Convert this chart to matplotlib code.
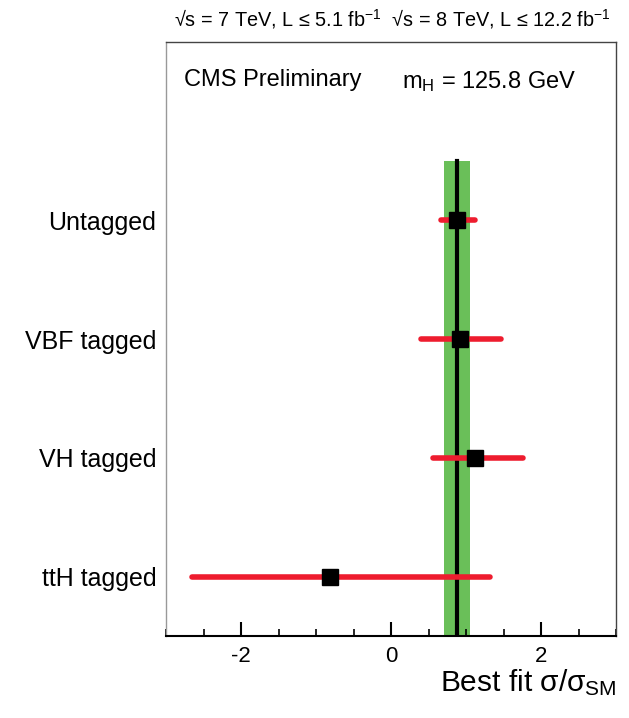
import matplotlib
matplotlib.use("Agg")
import matplotlib.pyplot as plt
from matplotlib.ticker import MultipleLocator

plt.rcParams['font.family'] = ['Liberation Sans', 'DejaVu Sans']
plt.rcParams['mathtext.fontset'] = 'custom'
plt.rcParams['mathtext.rm'] = 'Liberation Sans'
plt.rcParams['mathtext.it'] = 'Liberation Sans'
plt.rcParams['mathtext.sf'] = 'Liberation Sans'
plt.rcParams['axes.unicode_minus'] = False

# per-category best fit signal strength with 68% intervals
categories = ["ttH tagged", "VH tagged", "VBF tagged", "Untagged"]
mu_best = [-0.81, 1.12, 0.91, 0.87]
mu_low = [-2.66, 0.56, 0.40, 0.66]
mu_high = [1.31, 1.76, 1.46, 1.12]

# combined result
mu_comb = 0.88
mu_comb_low = 0.70
mu_comb_high = 1.05

ypos = [0.5, 1.5, 2.5, 3.5]

fig = plt.figure(figsize=(6.29, 7.18), dpi=100)
ax = fig.add_axes([0.264, 0.114, 0.716, 0.8275])

ax.fill_betweenx([0, 4], mu_comb_low, mu_comb_high, color="#6abf59", lw=0, zorder=1)
ax.plot([mu_comb, mu_comb], [0, 4], color="black", lw=3, zorder=2)

for y, m, lo, hi in zip(ypos, mu_best, mu_low, mu_high):
    ax.plot([lo, hi], [y, y], color="#ee1c2e", lw=4, solid_capstyle="round", zorder=3)
    ax.plot(m, y, marker="s", ms=12, color="black", zorder=4)

ax.set_xlim(-3, 3)
ax.set_ylim(0, 5)
ax.set_yticks(ypos)
ax.set_yticklabels(categories, fontsize=18)
ax.tick_params(axis="y", length=0, pad=7)

ax.xaxis.set_major_locator(MultipleLocator(2))
ax.xaxis.set_minor_locator(MultipleLocator(0.5))
ax.tick_params(axis="x", which="major", direction="in", length=10, width=1.5, labelsize=16, pad=7)
ax.tick_params(axis="x", which="minor", direction="in", length=5, width=1.2)

for side in ["top", "right"]:
    ax.spines[side].set_color("#444444")
    ax.spines[side].set_linewidth(1.0)
ax.spines["left"].set_color("#999999")
ax.spines["left"].set_linewidth(1.0)
ax.spines["bottom"].set_linewidth(1.5)

ax.set_xlabel(r"Best fit $\sigma/\sigma_{\rm SM}$", fontsize=21.5, loc="right", labelpad=0)

ax.text(0.04, 0.955, "CMS Preliminary", transform=ax.transAxes, fontsize=17, va="top", ha="left")
ax.text(0.525, 0.955, r"m$_{\rm H}$ = 125.8 GeV", transform=ax.transAxes, fontsize=17, va="top", ha="left")

fig.text(0.277, 0.957, "√s = 7 TeV, L ≤ 5.1 fb$^{-1}$  √s = 8 TeV, L ≤ 12.2 fb$^{-1}$",
         fontsize=14.3, ha="left", va="bottom")

fig.savefig("out.png", dpi=100)
